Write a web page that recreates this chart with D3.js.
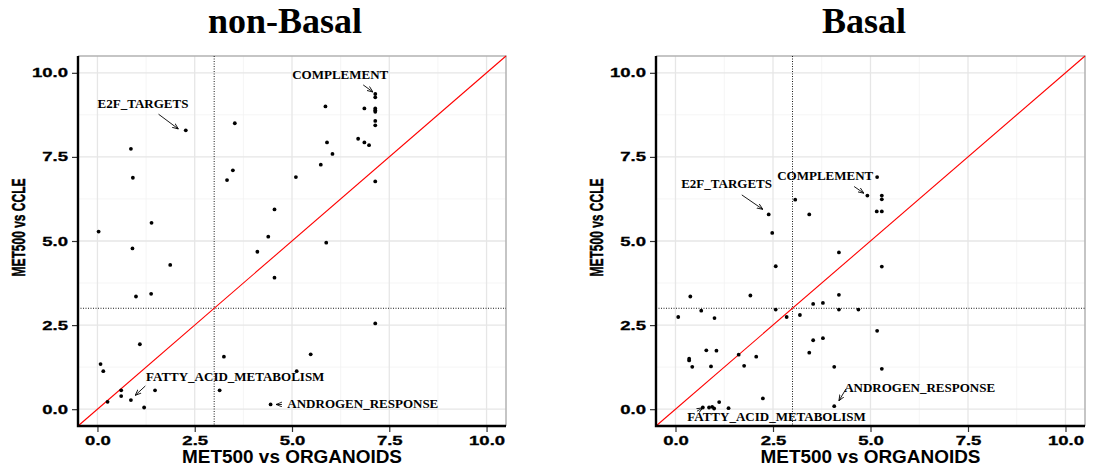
<!DOCTYPE html>
<html>
<head>
<meta charset="utf-8">
<script src="https://cdn.jsdelivr.net/npm/d3@7"></script>
<style>
  body { margin: 0; background: #fff; }
  svg { display: block; }
</style>
</head>
<body>
<svg id="chart" width="1094" height="468"></svg>
<script>
// values
const tickValues = [0, 2.5, 5, 7.5, 10];
const minorTicks = [1.25, 3.75, 6.25, 8.75];
const cutoff = 3;

const nonBasalX = [2.27, 0.86, 0.91, 1.39, 0.03, 0.90, 3.53, 3.48, 3.33, 4.55, 4.39,
  7.14, 7.14, 7.14, 7.14, 7.14, 7.14, 7.14, 5.86, 6.86, 5.90, 6.04, 6.70, 6.86, 6.98,
  5.74, 5.10, 7.14, 5.88, 1.87, 0.99, 1.38, 4.11, 4.55, 1.09, 0.08, 0.15, 3.25, 0.61,
  0.61, 0.26, 0.86, 1.20, 1.48, 3.14, 4.45, 7.14, 5.48, 5.12];
const nonBasalY = [8.29, 7.74, 6.88, 5.54, 5.28, 4.78, 8.50, 7.10, 6.81, 5.94, 5.13,
  9.37, 9.27, 8.94, 8.89, 8.84, 8.57, 8.44, 9.00, 8.94, 7.93, 7.59, 8.04, 7.93, 7.85,
  7.27, 6.90, 6.77, 4.95, 4.29, 3.35, 3.43, 4.68, 3.91, 1.93, 1.34, 1.13, 1.56, 0.56,
  0.39, 0.22, 0.27, 0.05, 0.56, 0.56, 0.14, 2.55, 1.63, 1.13];

const basalX = [2.39, 2.48, 2.57, 3.07, 3.43, 4.19, 0.38, 1.92, 4.19, 5.17, 4.92,
  5.29, 5.29, 5.16, 5.29, 5.29, 0.07, 0.66, 1.00, 2.57, 2.85, 3.19, 3.53, 3.78, 4.19,
  4.69, 0.79, 1.05, 0.35, 0.35, 0.43, 0.91, 1.62, 1.76, 2.07, 3.43, 3.53, 3.78, 4.07,
  2.24, 4.07, 0.70, 0.86, 0.94, 0.99, 1.12, 1.36, 5.17, 5.29];
const basalY = [5.79, 5.24, 4.25, 6.23, 5.79, 4.66, 3.35, 3.38, 3.40, 6.90, 6.35,
  6.35, 6.24, 5.88, 5.88, 4.24, 2.74, 2.93, 2.71, 2.96, 2.74, 2.80, 3.13, 3.16, 2.96,
  2.96, 1.75, 1.74, 1.50, 1.45, 1.26, 1.27, 1.62, 1.29, 1.56, 1.68, 2.05, 2.11, 1.26,
  0.32, 0.09, 0.05, 0.05, 0.07, 0.02, 0.21, 0.03, 2.33, 1.20];

const labelNames = ["E2F_TARGETS", "COMPLEMENT", "FATTY_ACID_METABOLISM", "ANDROGEN_RESPONSE"];
const nonBasalLabelX = [1.17, 6.24, 3.54, 6.82];
const nonBasalLabelY = [9.07, 9.94, 0.96, 0.17];
const nonBasalArrowFrom = [[1.57, 8.77], [6.83, 9.64], [1.23, 0.69], [4.74, 0.14]];
const nonBasalArrowTo = [[2.08, 8.33], [7.08, 9.43], [0.97, 0.41], [4.59, 0.14]];
const basalLabelX = [1.31, 3.84, 2.59, 6.26];
const basalLabelY = [6.69, 6.93, -0.23, 0.65];
const basalArrowFrom = [[1.70, 6.37], [4.58, 6.62], [0.55, -0.06], [4.37, 0.60]];
const basalArrowTo = [[2.24, 5.94], [4.83, 6.42], [0.70, 0.04], [4.19, 0.25]];

const panels = [
  { title: "non-Basal", xs: nonBasalX, ys: nonBasalY, lx: nonBasalLabelX, ly: nonBasalLabelY,
    from: nonBasalArrowFrom, to: nonBasalArrowTo, left: 78, right: 506, titleX: 285, yTitleX: 18 },
  { title: "Basal", xs: basalX, ys: basalY, lx: basalLabelX, ly: basalLabelY,
    from: basalArrowFrom, to: basalArrowTo, left: 656, right: 1085, titleX: 864, yTitleX: 596 }
];

const plotTop = 56, plotBottom = 426;
const svg = d3.select("#chart");

svg.append("defs").append("marker")
  .attr("id", "arrow")
  .attr("viewBox", "0 0 10 10")
  .attr("refX", 10).attr("refY", 5)
  .attr("markerWidth", 6).attr("markerHeight", 6)
  .attr("markerUnits", "userSpaceOnUse")
  .attr("orient", "auto")
  .append("path")
  .attr("d", "M0,1 L10,5 L0,9")
  .attr("fill", "none")
  .attr("stroke", "#000")
  .attr("stroke-width", 1.4);

// stretch tick text sideways like the reference
function widen(sel, k) {
  sel.each(function () {
    const w = this.getComputedTextLength();
    d3.select(this).attr("textLength", w * k).attr("lengthAdjust", "spacingAndGlyphs");
  });
}

panels.forEach(p => {
  const x = d3.scaleLinear().domain([-0.5, 10.5]).range([p.left, p.right]);
  const y = d3.scaleLinear().domain([-0.5, 10.5]).range([plotBottom, plotTop]);
  const g = svg.append("g");

  // grid
  g.selectAll(".minx").data(minorTicks).join("line")
    .attr("x1", d => x(d)).attr("x2", d => x(d)).attr("y1", plotTop).attr("y2", plotBottom)
    .attr("stroke", "#f2f2f2").attr("stroke-width", 0.8);
  g.selectAll(".miny").data(minorTicks).join("line")
    .attr("y1", d => y(d)).attr("y2", d => y(d)).attr("x1", p.left).attr("x2", p.right)
    .attr("stroke", "#f2f2f2").attr("stroke-width", 0.8);
  g.selectAll(".majx").data(tickValues).join("line")
    .attr("x1", d => x(d)).attr("x2", d => x(d)).attr("y1", plotTop).attr("y2", plotBottom)
    .attr("stroke", "#e6e6e6").attr("stroke-width", 1.3);
  g.selectAll(".majy").data(tickValues).join("line")
    .attr("y1", d => y(d)).attr("y2", d => y(d)).attr("x1", p.left).attr("x2", p.right)
    .attr("stroke", "#e6e6e6").attr("stroke-width", 1.3);

  // border top/right
  g.append("path")
    .attr("d", `M${p.left},${plotTop}H${p.right}V${plotBottom}`)
    .attr("fill", "none").attr("stroke", "#b3b3b3").attr("stroke-width", 1.5);

  // cutoff lines
  g.append("line")
    .attr("x1", x(cutoff)).attr("x2", x(cutoff)).attr("y1", plotTop).attr("y2", plotBottom)
    .attr("stroke", "#000").attr("stroke-width", 0.9).attr("stroke-dasharray", "1,1.5");
  g.append("line")
    .attr("y1", y(cutoff)).attr("y2", y(cutoff)).attr("x1", p.left).attr("x2", p.right)
    .attr("stroke", "#000").attr("stroke-width", 0.9).attr("stroke-dasharray", "1,1.5");

  // identity line
  g.append("line")
    .attr("x1", x(-0.5)).attr("y1", y(-0.5)).attr("x2", x(10.5)).attr("y2", y(10.5))
    .attr("stroke", "#ff0000").attr("stroke-width", 1.1);

  // points
  g.selectAll(".pt").data(p.xs.map((v, i) => [v, p.ys[i]])).join("circle")
    .attr("cx", d => x(d[0])).attr("cy", d => y(d[1]))
    .attr("r", 1.9).attr("fill", "#000");

  // labels with arrows
  g.selectAll(".arr").data(labelNames.map((n, i) => [p.from[i], p.to[i]])).join("line")
    .attr("x1", d => x(d[0][0])).attr("y1", d => y(d[0][1]))
    .attr("x2", d => x(d[1][0])).attr("y2", d => y(d[1][1]))
    .attr("stroke", "#000").attr("stroke-width", 0.9)
    .attr("marker-end", "url(#arrow)");
  g.selectAll(".lab").data(labelNames).join("text")
    .attr("x", (d, i) => x(p.lx[i])).attr("y", (d, i) => y(p.ly[i]))
    .attr("dy", "0.33em")
    .attr("text-anchor", "middle")
    .style("font-family", "'Liberation Serif', 'Times New Roman', serif")
    .style("font-weight", "bold").style("font-size", "13px")
    .text(d => d);

  // axes
  const yAxis = g.append("g").attr("transform", `translate(${p.left},0)`)
    .call(d3.axisLeft(y).tickValues(tickValues).tickFormat(d3.format(".1f")).tickSize(6).tickPadding(4));
  const xAxis = g.append("g").attr("transform", `translate(0,${plotBottom})`)
    .call(d3.axisBottom(x).tickValues(tickValues).tickFormat(d3.format(".1f")).tickSize(6).tickPadding(4));
  [yAxis, xAxis].forEach(a => {
    a.select(".domain").remove();
    a.selectAll(".tick line").attr("stroke", "#333").attr("stroke-width", 1.2);
    a.selectAll(".tick text")
      .style("font-family", "'Liberation Sans', Arial, sans-serif")
      .style("font-weight", "bold").style("font-size", "12.5px").attr("fill", "#000")
      .attr("stroke", "#000").attr("stroke-width", 0.3);
    widen(a.selectAll(".tick text"), 1.48);
  });

  g.append("path")
    .attr("d", `M${p.left},${plotTop}V${plotBottom}H${p.right}`)
    .attr("fill", "none").attr("stroke", "#000").attr("stroke-width", 2.4);

  // titles
  svg.append("text")
    .attr("x", p.titleX).attr("y", 33)
    .attr("text-anchor", "middle")
    .style("font-family", "'Liberation Serif', 'Times New Roman', serif")
    .style("font-weight", "bold").style("font-size", "36px")
    .text(p.title);

  svg.append("text")
    .attr("x", (p.left + p.right) / 2).attr("y", 462.7)
    .attr("text-anchor", "middle")
    .attr("textLength", 220).attr("lengthAdjust", "spacingAndGlyphs")
    .style("font-family", "'Liberation Sans', Arial, sans-serif")
    .style("font-weight", "bold").style("font-size", "18px")
    .text("MET500 vs ORGANOIDS");

  svg.append("text")
    .attr("transform", `translate(${p.yTitleX + 7},227.5) rotate(-90)`)
    .attr("text-anchor", "middle")
    .attr("textLength", 98).attr("lengthAdjust", "spacingAndGlyphs")
    .attr("stroke", "#000").attr("stroke-width", 0.5)
    .style("font-family", "'Liberation Sans', Arial, sans-serif")
    .style("font-weight", "bold").style("font-size", "19px")
    .text("MET500 vs CCLE");
});
</script>
</body>
</html>
